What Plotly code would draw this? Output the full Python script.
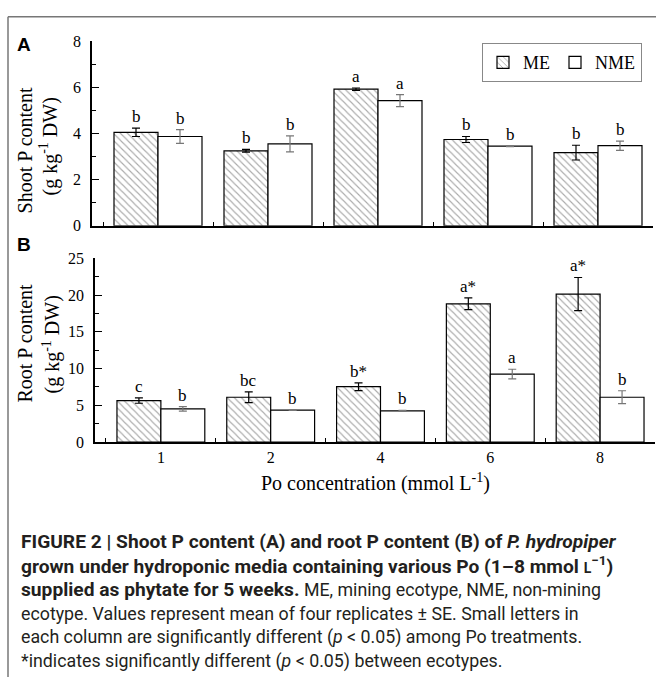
import plotly.graph_objects as go

W, H = 656, 690

categories = ["1", "2", "4", "6", "8"]

shoot_me = [4.05, 3.25, 5.92, 3.74, 3.17]
shoot_me_se = [0.18, 0.06, 0.05, 0.13, 0.32]
shoot_nme = [3.87, 3.55, 5.42, 3.45, 3.47]
shoot_nme_se = [0.30, 0.35, 0.26, 0.02, 0.20]
shoot_me_letters = ["b", "b", "a", "b", "b"]
shoot_nme_letters = ["b", "b", "a", "b", "b"]

root_me = [5.65, 6.10, 7.53, 18.82, 20.14]
root_me_se = [0.37, 0.73, 0.53, 0.80, 2.26]
root_nme = [4.52, 4.34, 4.25, 9.25, 6.10]
root_nme_se = [0.30, 0.05, 0.08, 0.66, 0.88]
root_me_letters = ["c", "bc", "b*", "a*", "a*"]
root_nme_letters = ["b", "b", "b", "a", "b"]

SERIF = "Liberation Serif"
SANS = "Roboto"


def px_x(p):
    return p / W


def px_y(p):
    return 1 - p / H


fig = go.Figure()

me_marker = dict(color="white", line=dict(color="black", width=1.2),
                 pattern=dict(shape="\\", fgcolor="#555", bgcolor="white",
                              size=5, solidity=0.22))
nme_marker = dict(color="white", line=dict(color="black", width=1.2))

for (me, me_se, nme, nme_se, xa, ya, show) in [
    (shoot_me, shoot_me_se, shoot_nme, shoot_nme_se, "x", "y", True),
    (root_me, root_me_se, root_nme, root_nme_se, "x2", "y2", False),
]:
    fig.add_trace(go.Bar(x=categories, y=me, name="ME", marker=me_marker,
                         error_y=dict(type="data", array=me_se, color="black",
                                      thickness=1.2, width=4),
                         xaxis=xa, yaxis=ya, showlegend=show))
    fig.add_trace(go.Bar(x=categories, y=nme, name="NME", marker=nme_marker,
                         error_y=dict(type="data", array=nme_se, color="#777",
                                      thickness=1.2, width=4),
                         xaxis=xa, yaxis=ya, showlegend=show))

annotations = []
for (vals, ses, letters, shift, xr, yr) in [
    (shoot_me, shoot_me_se, shoot_me_letters, -22, "x", "y"),
    (shoot_nme, shoot_nme_se, shoot_nme_letters, 22, "x", "y"),
    (root_me, root_me_se, root_me_letters, -22, "x2", "y2"),
    (root_nme, root_nme_se, root_nme_letters, 22, "x2", "y2"),
]:
    for i, (v, s, t) in enumerate(zip(vals, ses, letters)):
        annotations.append(dict(x=i, y=v + s, xref=xr, yref=yr, text=t,
                                showarrow=False, xshift=shift, yshift=0,
                                yanchor="bottom",
                                font=dict(family=SERIF, size=17, color="black")))

# axis titles (two lines, rotated)
for (txt, xp, yp) in [
    ("Shoot P content", 25, 146),
    ("(g kg<sup>-1</sup> DW)", 49, 142),
    ("Root P content", 25, 344),
    ("(g kg<sup>-1</sup> DW)", 51, 345),
]:
    annotations.append(dict(x=px_x(xp), y=px_y(yp), xref="paper", yref="paper",
                            text=txt, textangle=-90, showarrow=False,
                            xanchor="center", yanchor="middle",
                            font=dict(family=SERIF, size=20, color="black")))

annotations.append(dict(x=px_x(375), y=px_y(486), xref="paper", yref="paper",
                        text="Po concentration (mmol L<sup>-1</sup>)", showarrow=False,
                        xanchor="center", yanchor="middle",
                        font=dict(family=SERIF, size=20, color="black")))

# panel letters
for (txt, xp, yp) in [("A", 15, 37), ("B", 15, 242)]:
    annotations.append(dict(x=px_x(xp), y=px_y(yp), xref="paper", yref="paper",
                            text="<b>%s</b>" % txt, showarrow=False,
                            xanchor="left", yanchor="middle",
                            font=dict(family="Liberation Sans", size=19, color="black")))

B = "<span style='font-size:19.2px'><b>%s</b></span>"
caption = [
    B % "FIGURE 2 | Shoot P content (A) and root P content (B) of <i>P. hydropiper</i>",
    B % ("grown under hydroponic media containing various Po (1–8 mmol "
         "<span style='font-size:14px'>L</span><sup>−1</sup>)"),
    (B % "supplied as phytate for 5 weeks.") + " ME, mining ecotype, NME, non-mining",
    "ecotype. Values represent mean of four replicates ± SE. Small letters in",
    "each column are significantly different (<i>p</i> &lt; 0.05) among Po treatments.",
    "*indicates significantly different (<i>p</i> &lt; 0.05) between ecotypes.",
]
for i, line in enumerate(caption):
    annotations.append(dict(x=px_x(19), y=px_y(547 + i * 24.5), xref="paper", yref="paper",
                            text=line, showarrow=False, xanchor="left", yanchor="middle",
                            font=dict(family=SANS, size=17.8, color="#231f20")))

axis_common = dict(showline=True, linecolor="black", linewidth=1.5, showgrid=False,
                   zeroline=False, mirror=False)

fig.update_layout(
    width=W, height=H,
    margin=dict(l=0, r=0, t=0, b=0),
    paper_bgcolor="white", plot_bgcolor="white",
    barmode="group", bargap=0.2, bargroupgap=0,
    showlegend=True,
    legend=dict(orientation="h", x=px_x(642), y=px_y(36), xanchor="right", yanchor="top",
                bordercolor="#888", borderwidth=1, bgcolor="white",
                font=dict(family=SERIF, size=18, color="black"),
                itemwidth=30, tracegroupgap=0),
    xaxis=dict(domain=[px_x(92), px_x(653)], anchor="y", type="category",
               range=[-0.6, 4.5], ticks="inside", tickson="boundaries", ticklen=4,
               tickcolor="black", tickwidth=1.2, showticklabels=False, **axis_common),
    yaxis=dict(domain=[px_y(223.3), px_y(34)], anchor="x", range=[0, 8], dtick=2,
               ticks="inside", ticklen=7, tickcolor="black", tickwidth=1.2,
               minor=dict(ticks="inside", ticklen=4, dtick=1, tickcolor="black", tickwidth=1.2),
               tickfont=dict(family=SERIF, size=16, color="black"), ticklabelstandoff=6,
               **axis_common),
    xaxis2=dict(domain=[px_x(95), px_x(655)], anchor="y2", type="category",
                range=[-0.6, 4.5], ticks="inside", tickson="boundaries", ticklen=4,
                tickcolor="black", tickwidth=1.2,
                tickfont=dict(family=SERIF, size=16, color="black"), **axis_common),
    yaxis2=dict(domain=[px_y(445), px_y(256.7)], anchor="x2", range=[0, 25], dtick=5,
                ticks="inside", ticklen=7, tickcolor="black", tickwidth=1.2,
                minor=dict(ticks="inside", ticklen=4, dtick=2.5, tickcolor="black", tickwidth=1.2),
                tickfont=dict(family=SERIF, size=16, color="black"), ticklabelstandoff=6,
                **axis_common),
    annotations=annotations,
    shapes=[
        dict(type="line", xref="paper", yref="paper", x0=px_x(8), x1=px_x(8),
             y0=px_y(9), y1=px_y(686), line=dict(color="#777", width=1.5)),
        dict(type="line", xref="paper", yref="paper", x0=px_x(8), x1=1,
             y0=px_y(9), y1=px_y(9), line=dict(color="#777", width=1.5)),
    ],
)

fig.write_html("out.html")
